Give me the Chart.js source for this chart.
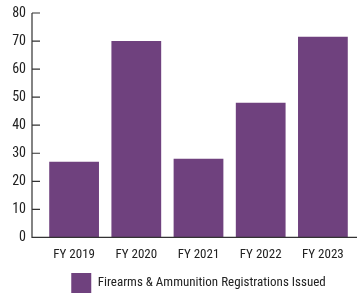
<!DOCTYPE html>
<html>
<head>
<meta charset="utf-8">
<script src="https://cdn.jsdelivr.net/npm/chart.js@4.4.0/dist/chart.umd.min.js"></script>
<style>
  html, body { margin: 0; padding: 0; background: #fff; }
  #wrap { width: 357px; height: 296px; }
</style>
</head>
<body>
<div id="wrap"><canvas id="regChart"></canvas></div>
<script>
  // data
  var YEARS = ["FY 2019", "FY 2020", "FY 2021", "FY 2022", "FY 2023"];
  var REGISTRATIONS = [27, 70, 28, 48, 71.5];
  var SERIES_NAME = "Firearms & Ammunition Registrations Issued";
  var Y_TICKS = [0, 10, 20, 30, 40, 50, 60, 70, 80];

  var PURPLE = "#6f417e";
  var INK = "#222";
  var FONT = "'Roboto Condensed', 'Liberation Sans Narrow', sans-serif";

  // axis lines sit a bit left of the plot area, ticks point inward
  var axisPlugin = {
    id: "axisLines",
    afterDraw: function (chart) {
      var ctx = chart.ctx;
      var y = chart.scales.y;
      var area = chart.chartArea;
      var ax = area.left - 11;
      ctx.save();
      ctx.strokeStyle = "#333";
      ctx.lineWidth = 1.2;
      ctx.beginPath();
      ctx.moveTo(ax, y.getPixelForValue(80));
      ctx.lineTo(ax, y.getPixelForValue(0));
      ctx.lineTo(chart.width, y.getPixelForValue(0));
      Y_TICKS.forEach(function (v) {
        var py = y.getPixelForValue(v);
        ctx.moveTo(ax, py);
        ctx.lineTo(ax + 8, py);
      });
      ctx.stroke();
      ctx.restore();
    },
  };

  new Chart(document.getElementById("regChart"), {
    type: "bar",
    data: {
      labels: YEARS,
      datasets: [
        {
          label: SERIES_NAME,
          data: REGISTRATIONS,
          backgroundColor: PURPLE,
          borderWidth: 0,
          barPercentage: 0.8,
          categoryPercentage: 1.0,
        },
      ],
    },
    options: {
      responsive: true,
      maintainAspectRatio: false,
      animation: false,
      layout: { padding: { top: 13, right: 3, left: 0, bottom: -7 } },
      plugins: {
        tooltip: { enabled: false },
        legend: {
          position: "bottom",
          fullSize: false,
          labels: {
            boxWidth: 20,
            boxHeight: 20,
            padding: 0,
            color: INK,
            font: { family: FONT, size: 13 },
          },
        },
      },
      scales: {
        x: {
          grid: { display: false, drawTicks: false },
          border: { display: false },
          ticks: { color: INK, padding: 10, font: { family: FONT, size: 13 } },
        },
        y: {
          min: 0,
          max: 80,
          afterFit: function (scale) { scale.width = 43; },
          // tick marks are hidden, their length just spaces the labels
          grid: { display: false, drawTicks: true, tickLength: 17 },
          border: { display: false },
          ticks: {
            stepSize: 10,
            padding: 0,
            color: INK,
            font: { family: FONT, size: 14 },
          },
        },
      },
    },
    plugins: [axisPlugin],
  });
</script>
</body>
</html>
